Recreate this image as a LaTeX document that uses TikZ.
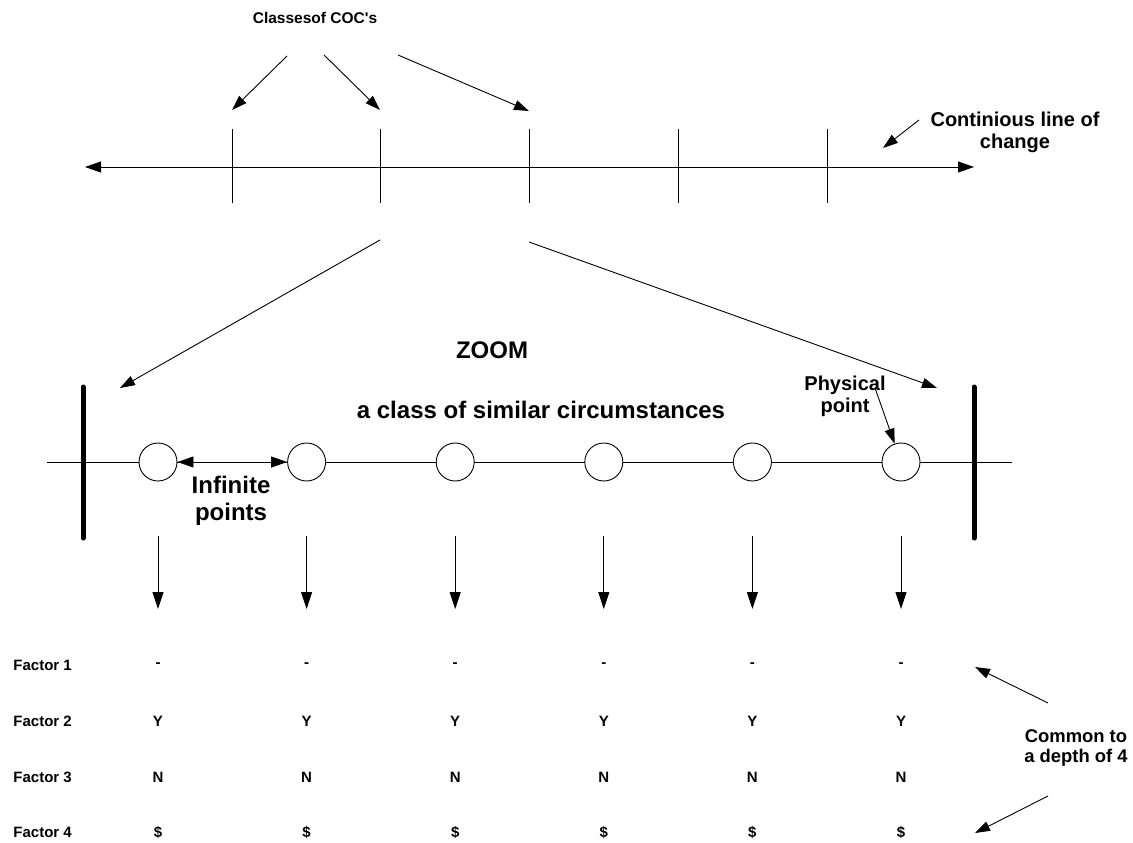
\documentclass[tikz,border=0pt]{standalone}
\usepackage{fontspec}
\setmainfont{Liberation Sans}
\usetikzlibrary{arrows.meta}
\begin{document}
\begin{tikzpicture}[x=1pt,y=-1pt,
  every path/.style={line width=0.9pt},
  tip/.style={-{Triangle[length=15pt,width=10pt]}},
  dtip/.style={{Triangle[length=16pt,width=11pt]}-{Triangle[length=16pt,width=11pt]}},
  downtip/.style={-{Triangle[length=17pt,width=11pt]}},
  smalllbl/.style={font=\bfseries\fontsize{15.5}{18}\selectfont, inner sep=0pt},
  midlbl/.style={font=\bfseries\fontsize{20}{22}\selectfont, align=center, inner sep=0pt},
  biglbl/.style={font=\bfseries\fontsize{24}{27}\selectfont, align=center, inner sep=0pt},
  factor/.style={font=\bfseries\fontsize{15}{18}\selectfont, inner sep=0pt},
  pointc/.style={circle, draw, fill=white, minimum size=38pt, inner sep=0pt},
  bar/.style={line width=5pt, line cap=round}
]
\useasboundingbox (0,0) rectangle (1133,843);

% ---- continuous line of change with class boundaries ----
\node[smalllbl] (classes) at (315,18) {Classesof COC\textquotesingle s};
\coordinate (lineL) at (85,167);
\coordinate (lineR) at (974,167);
\draw[dtip] (lineL) -- (lineR);
\foreach \x [count=\i] in {232,380,529,678,827} {
  \coordinate (tt\i) at (\x,129);
  \coordinate (tb\i) at (\x,203);
  \draw (tt\i) -- (tb\i);
}
\coordinate (cs1) at (287,56);
\coordinate (cs2) at (324,55);
\coordinate (cs3) at (398,55);
\coordinate (ce1) at (232,110);
\coordinate (ce2) at (380,110);
\coordinate (ce3) at (529,111);
\draw[tip] (cs1) -- (ce1);
\draw[tip] (cs2) -- (ce2);
\draw[tip] (cs3) -- (ce3);

\node[midlbl] (cont) at (1015,132) {Continious line of\\change};
\coordinate (contS) at (919,120);
\coordinate (contE) at (883,148);
\draw[tip] (contS) -- (contE);

% ---- zoom into one class ----
\coordinate (zs1) at (380,240);
\coordinate (zs2) at (529,242);
\coordinate (ze1) at (120,388);
\coordinate (ze2) at (937,388);
\draw[tip] (zs1) -- (ze1);
\draw[tip] (zs2) -- (ze2);

\node[biglbl] (zoom) at (492,350) {ZOOM};
\node[biglbl] (class) at (541,410) {a class of similar circumstances};

% axis of the zoomed class
\coordinate (axL) at (47,462);
\coordinate (axR) at (1012,462);
\draw (axL) -- (axR);
\coordinate (b1t) at (83,387);
\coordinate (b1b) at (83,538);
\coordinate (b2t) at (974,387);
\coordinate (b2b) at (974,538);
\draw[bar] (b1t) -- (b1b);
\draw[bar] (b2t) -- (b2b);

% physical points and factor table
\foreach \i in {1,...,6} {
  \pgfmathsetmacro{\cx}{158+148.6*(\i-1)}
  \node[pointc] (c\i) at (\cx,462) {};
  \coordinate (va\i) at (\cx,536);
  \coordinate (vb\i) at (\cx,609);
  \draw[downtip] (va\i) -- (vb\i);
  \node[factor] (fa\i) at (\cx,665) {-};
  \node[factor] (fb\i) at (\cx,721) {Y};
  \node[factor] (fc\i) at (\cx,777) {N};
  \node[factor] (fd\i) at (\cx,832) {\$};
}
\draw[dtip] (c1) -- (c2);
\node[biglbl] (inf) at (231,501) {Infinite\\points};

\node[midlbl] (phys) at (845,396) {Physical\\point};
\coordinate (physS) at (875,388);
\draw[tip] (physS) -- (c6);

\node[factor, anchor=west] (f1) at (13,665) {Factor 1};
\node[factor, anchor=west] (f2) at (13,721) {Factor 2};
\node[factor, anchor=west] (f3) at (13,777) {Factor 3};
\node[factor, anchor=west] (f4) at (13,832) {Factor 4};

\node[font=\bfseries\fontsize{18.4}{20}\selectfont, align=center, inner sep=0pt] (common) at (1076,748) {Common to\\a depth of 4};
\coordinate (cmS1) at (1048,703);
\coordinate (cmE1) at (975,667);
\coordinate (cmS2) at (1048,796);
\coordinate (cmE2) at (975,833);
\draw[tip] (cmS1) -- (cmE1);
\draw[tip] (cmS2) -- (cmE2);
\end{tikzpicture}
\end{document}
